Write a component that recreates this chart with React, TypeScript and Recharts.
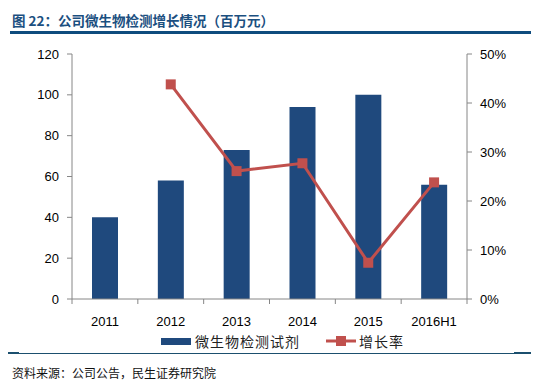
import * as React from 'react';
import { ComposedChart, Bar, Line, XAxis, YAxis, Legend } from 'recharts';

const categories = ['2011', '2012', '2013', '2014', '2015', '2016H1'];
const reagentRevenue = [40, 58, 73, 94, 100, 56];
const growthRate = [null, 0.438, 0.261, 0.277, 0.074, 0.238];
const leftTicks = [0, 20, 40, 60, 80, 100, 120];
const rightTicks = [0, 0.1, 0.2, 0.3, 0.4, 0.5];

const BAR_COLOR = '#1F497D';
const LINE_COLOR = '#C0504D';
const AXIS_COLOR = '#868686';
const CJK = '"Noto Sans CJK SC", sans-serif';
const LATIN = '"Liberation Sans", Arial, sans-serif';

const data = categories.map((name, i) => ({
  name,
  pos: i + 0.5,
  revenue: reagentRevenue[i],
  growth: growthRate[i],
}));

// boundary ticks at integers, labels at band centers
const xTicks = Array.from({ length: categories.length * 2 + 1 }, (_, i) => i / 2);

function XTick(props: any) {
  const { x, y, payload } = props;
  const v = payload.value as number;
  if (Number.isInteger(v)) {
    return <line x1={x} x2={x} y1={y} y2={y + 5} stroke={AXIS_COLOR} />;
  }
  return (
    <text x={x} y={y + 27} textAnchor="middle" fontSize={13} fontFamily={LATIN} fill="#000">
      {categories[Math.floor(v)]}
    </text>
  );
}

function SquareDot(props: any) {
  const { cx, cy, value } = props;
  if (value == null || cx == null || cy == null) return null;
  return <rect x={cx - 5} y={cy - 5} width={10} height={10} fill={LINE_COLOR} />;
}

function LegendContent() {
  return (
    <div style={{ display: 'flex', justifyContent: 'center', alignItems: 'center', fontFamily: CJK, fontSize: 14, letterSpacing: 1, color: '#222', paddingLeft: 26 }}>
      <span style={{ display: 'inline-block', width: 30, height: 7, background: BAR_COLOR, marginRight: 4 }} />
      <span style={{ marginRight: 26 }}>微生物检测试剂</span>
      <svg width={30} height={12} style={{ marginRight: 3 }}>
        <line x1={0} x2={30} y1={6} y2={6} stroke={LINE_COLOR} strokeWidth={3} />
        <rect x={10} y={1} width={10} height={10} fill={LINE_COLOR} />
      </svg>
      <span>增长率</span>
    </div>
  );
}

export default function App() {
  return (
    <div style={{ position: 'absolute', left: 0, top: 0, width: 546, height: 388, background: '#fff', overflow: 'hidden' }}>
      <div style={{ position: 'absolute', left: 12, top: 10, fontFamily: CJK, fontWeight: 700, fontSize: 13.5, color: '#1B4F80', whiteSpace: 'nowrap' }}>
        图 22：公司微生物检测增长情况（百万元）
      </div>
      <div style={{ position: 'absolute', left: 10, top: 31, width: 521, height: 3, background: '#0F4C7E' }} />
      <ComposedChart
        width={546}
        height={388}
        data={data}
        margin={{ top: 54, right: 19, left: 12, bottom: 41 }}
      >
        <XAxis
          dataKey="pos"
          type="number"
          domain={[0, categories.length]}
          ticks={xTicks}
          interval={0}
          tickSize={0}
          tickMargin={0}
          tickLine={false}
          height={32}
          axisLine={{ stroke: AXIS_COLOR }}
          tick={<XTick />}
        />
        <YAxis
          yAxisId="left"
          domain={[0, 120]}
          ticks={leftTicks}
          width={60}
          tickSize={5}
          tickMargin={8}
          axisLine={{ stroke: AXIS_COLOR }}
          tickLine={{ stroke: AXIS_COLOR }}
          tick={{ fontSize: 13, fontFamily: LATIN, fill: '#000' }}
        />
        <YAxis
          yAxisId="right"
          orientation="right"
          domain={[0, 0.5]}
          ticks={rightTicks}
          width={60}
          tickSize={5}
          tickMargin={8}
          axisLine={{ stroke: AXIS_COLOR }}
          tickLine={{ stroke: AXIS_COLOR }}
          tick={{ fontSize: 13, fontFamily: LATIN, fill: '#000' }}
          tickFormatter={(v: number) => `${Math.round(v * 100)}%`}
        />
        <Legend verticalAlign="bottom" content={<LegendContent />} wrapperStyle={{ height: 16 }} />
        <Bar yAxisId="left" dataKey="revenue" fill={BAR_COLOR} barSize={26} isAnimationActive={false} name="微生物检测试剂" />
        <Line
          yAxisId="right"
          dataKey="growth"
          stroke={LINE_COLOR}
          strokeWidth={3}
          dot={<SquareDot />}
          activeDot={false}
          isAnimationActive={false}
          name="增长率"
        />
      </ComposedChart>
      <div style={{ position: 'absolute', left: 8, top: 353, width: 523, height: 1, background: '#1B4F6E' }} />
      <div style={{ position: 'absolute', left: 8, top: 352, width: 11, height: 2, background: '#1B4F6E' }} />
      <div style={{ position: 'absolute', left: 514, top: 352, width: 17, height: 2, background: '#1B4F6E' }} />
      <div style={{ position: 'absolute', left: 12, top: 364, fontFamily: CJK, fontSize: 12, color: '#111', whiteSpace: 'nowrap' }}>
        资料来源：公司公告，民生证券研究院
      </div>
    </div>
  );
}
